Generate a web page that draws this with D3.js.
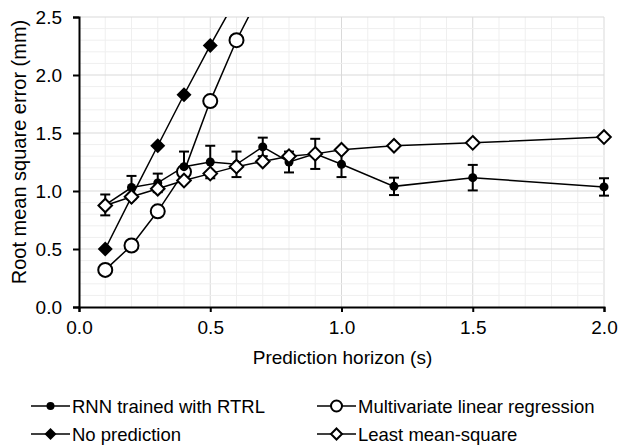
<!DOCTYPE html>
<html>
<head>
<meta charset="utf-8">
<script src="https://cdn.jsdelivr.net/npm/d3@7"></script>
<style>
  body { margin: 0; background: #fff; }
  svg { font-family: "Liberation Sans", Arial, sans-serif; }
</style>
</head>
<body>
<div id="chart"></div>
<script>
// horizons (s)
var horizons = [0.1, 0.2, 0.3, 0.4, 0.5, 0.6, 0.7, 0.8, 0.9, 1.0, 1.2, 1.5, 2.0];
var rnnValues = [0.88, 1.03, 1.07, 1.21, 1.25, 1.23, 1.38, 1.25, 1.32, 1.23, 1.04, 1.115, 1.035];
var rnnErrors = [0.09, 0.10, 0.08, 0.13, 0.14, 0.11, 0.08, 0.09, 0.13, 0.11, 0.075, 0.11, 0.075];
var lmsValues = [0.875, 0.95, 1.02, 1.09, 1.15, 1.21, 1.255, 1.30, 1.32, 1.355, 1.39, 1.415, 1.465];
var noPredX = [0.1, 0.2, 0.3, 0.4, 0.5, 0.6];
var noPredValues = [0.50, 0.95, 1.39, 1.83, 2.255, 2.66];
var mlrX = [0.1, 0.2, 0.3, 0.4, 0.5, 0.6, 0.7];
var mlrValues = [0.32, 0.53, 0.825, 1.165, 1.775, 2.30, 2.74];
var xTicks = [0, 0.5, 1.0, 1.5, 2.0];
var yTicks = [0, 0.5, 1.0, 1.5, 2.0, 2.5];

var width = 630, height = 447;
var margin = { top: 17, right: 26, bottom: 140, left: 79 };
var fs = "19px";

var svg = d3.select("#chart").append("svg")
    .attr("width", width)
    .attr("height", height);

var x = d3.scaleLinear().domain([0, 2]).range([margin.left, width - margin.right]);
var y = d3.scaleLinear().domain([0, 2.5]).range([height - margin.bottom, margin.top]);

// grid (minor every 0.1, darker every 0.5)
var minorX = d3.range(1, 21).map(function (d) { return d / 10; });
var minorY = d3.range(1, 26).map(function (d) { return d / 10; });
var grid = svg.append("g");
grid.selectAll(".gx").data(minorX).join("line")
    .attr("x1", d => x(d)).attr("x2", d => x(d))
    .attr("y1", y(0)).attr("y2", y(2.5))
    .attr("stroke", d => (Math.round(d * 10) % 5 == 0) ? "#d9d9d9" : "#efefef")
    .attr("stroke-width", 1);
grid.selectAll(".gy").data(minorY).join("line")
    .attr("x1", x(0)).attr("x2", x(2))
    .attr("y1", d => y(d)).attr("y2", d => y(d))
    .attr("stroke", d => (Math.round(d * 10) % 5 == 0) ? "#d9d9d9" : "#efefef")
    .attr("stroke-width", 1);

// axes
var xAxis = svg.append("g")
    .attr("transform", "translate(0," + y(0) + ")")
    .call(d3.axisBottom(x).tickValues(xTicks).tickFormat(d3.format(".1f")).tickSize(5).tickPadding(9));
var yAxis = svg.append("g")
    .attr("transform", "translate(" + x(0) + ",0)")
    .call(d3.axisLeft(y).tickValues(yTicks).tickFormat(d3.format(".1f")).tickSize(6).tickPadding(11));
[xAxis, yAxis].forEach(function (g) {
    g.select(".domain").attr("stroke", "#000").attr("stroke-width", 2);
    g.selectAll(".tick line").attr("stroke", "#000").attr("stroke-width", 2);
    g.selectAll("text").attr("font-size", fs).attr("fill", "#000")
        .attr("font-family", "Liberation Sans, Arial, sans-serif");
});

svg.append("text")
    .attr("x", (x(0) + x(2)) / 2 + 1).attr("y", 364)
    .attr("text-anchor", "middle").attr("font-size", fs)
    .text("Prediction horizon (s)");
svg.append("text")
    .attr("transform", "rotate(-90)")
    .attr("x", -152).attr("y", 26)
    .attr("text-anchor", "middle").attr("font-size", "20px")
    .text("Root mean square error (mm)");

// clip
svg.append("clipPath").attr("id", "plot")
    .append("rect")
    .attr("x", x(0) - 10).attr("y", y(2.5))
    .attr("width", x(2) - x(0) + 20).attr("height", y(0) - y(2.5) + 10);

var plot = svg.append("g").attr("clip-path", "url(#plot)");
var line = d3.line().x(d => x(d[0])).y(d => y(d[1]));

function zip(xs, ys) { return xs.map(function (v, i) { return [v, ys[i]]; }); }

var rnn = zip(horizons, rnnValues);
var lms = zip(horizons, lmsValues);
var noPred = zip(noPredX, noPredValues);
var mlr = zip(mlrX, mlrValues);

var diamond = function (s) { return "M0," + (-s) + "L" + s + ",0L0," + s + "L" + (-s) + ",0Z"; };

// lines
[mlr, noPred, rnn, lms].forEach(function (s) {
    plot.append("path").datum(s)
        .attr("d", line).attr("fill", "none")
        .attr("stroke", "#000").attr("stroke-width", 1.5);
});

// error bars for rnn
var eb = plot.append("g").selectAll("g").data(horizons).join("g");
eb.append("line")
    .attr("x1", d => x(d)).attr("x2", d => x(d))
    .attr("y1", (d, i) => y(rnnValues[i] + rnnErrors[i]))
    .attr("y2", (d, i) => y(rnnValues[i] - rnnErrors[i]))
    .attr("stroke", "#000").attr("stroke-width", 2);
eb.append("line")
    .attr("x1", d => x(d) - 5).attr("x2", d => x(d) + 5)
    .attr("y1", (d, i) => y(rnnValues[i] + rnnErrors[i]))
    .attr("y2", (d, i) => y(rnnValues[i] + rnnErrors[i]))
    .attr("stroke", "#000").attr("stroke-width", 2);
eb.append("line")
    .attr("x1", d => x(d) - 5).attr("x2", d => x(d) + 5)
    .attr("y1", (d, i) => y(rnnValues[i] - rnnErrors[i]))
    .attr("y2", (d, i) => y(rnnValues[i] - rnnErrors[i]))
    .attr("stroke", "#000").attr("stroke-width", 2);

// markers
plot.selectAll(".mlr").data(mlr).join("circle")
    .attr("cx", d => x(d[0])).attr("cy", d => y(d[1])).attr("r", 7)
    .attr("fill", "#fff").attr("stroke", "#000").attr("stroke-width", 2);
plot.selectAll(".np").data(noPred).join("path")
    .attr("transform", d => "translate(" + x(d[0]) + "," + y(d[1]) + ")")
    .attr("d", diamond(7.5)).attr("fill", "#000");
plot.selectAll(".rnn").data(rnn).join("circle")
    .attr("cx", d => x(d[0])).attr("cy", d => y(d[1])).attr("r", 4.5)
    .attr("fill", "#000");
plot.selectAll(".lms").data(lms).join("path")
    .attr("transform", d => "translate(" + x(d[0]) + "," + y(d[1]) + ")")
    .attr("d", diamond(6.8)).attr("fill", "#fff").attr("stroke", "#000").attr("stroke-width", 2);

// legend
var legendItems = [
    { label: "RNN trained with RTRL", type: "rnn", lx: 31, ly: 406 },
    { label: "Multivariate linear regression", type: "mlr", lx: 317, ly: 406 },
    { label: "No prediction", type: "np", lx: 31, ly: 434 },
    { label: "Least mean-square", type: "lms", lx: 317, ly: 434 }
];
var leg = svg.append("g").selectAll("g").data(legendItems).join("g")
    .attr("transform", d => "translate(" + d.lx + "," + d.ly + ")");
leg.append("line").attr("x1", 0).attr("x2", 39).attr("y1", 0).attr("y2", 0)
    .attr("stroke", "#000").attr("stroke-width", 1.5);
leg.each(function (d) {
    var g = d3.select(this);
    if (d.type == "rnn") g.append("circle").attr("cx", 19.5).attr("r", 4).attr("fill", "#000");
    if (d.type == "mlr") g.append("circle").attr("cx", 19.5).attr("r", 5.5).attr("fill", "#fff").attr("stroke", "#000").attr("stroke-width", 2);
    if (d.type == "np") g.append("path").attr("transform", "translate(19.5,0)").attr("d", diamond(6)).attr("fill", "#000");
    if (d.type == "lms") g.append("path").attr("transform", "translate(19.5,0)").attr("d", diamond(5.5)).attr("fill", "#fff").attr("stroke", "#000").attr("stroke-width", 2);
});
leg.append("text").attr("x", 41).attr("y", 6.5).attr("font-size", "18.5px").text(d => d.label);
</script>
</body>
</html>
